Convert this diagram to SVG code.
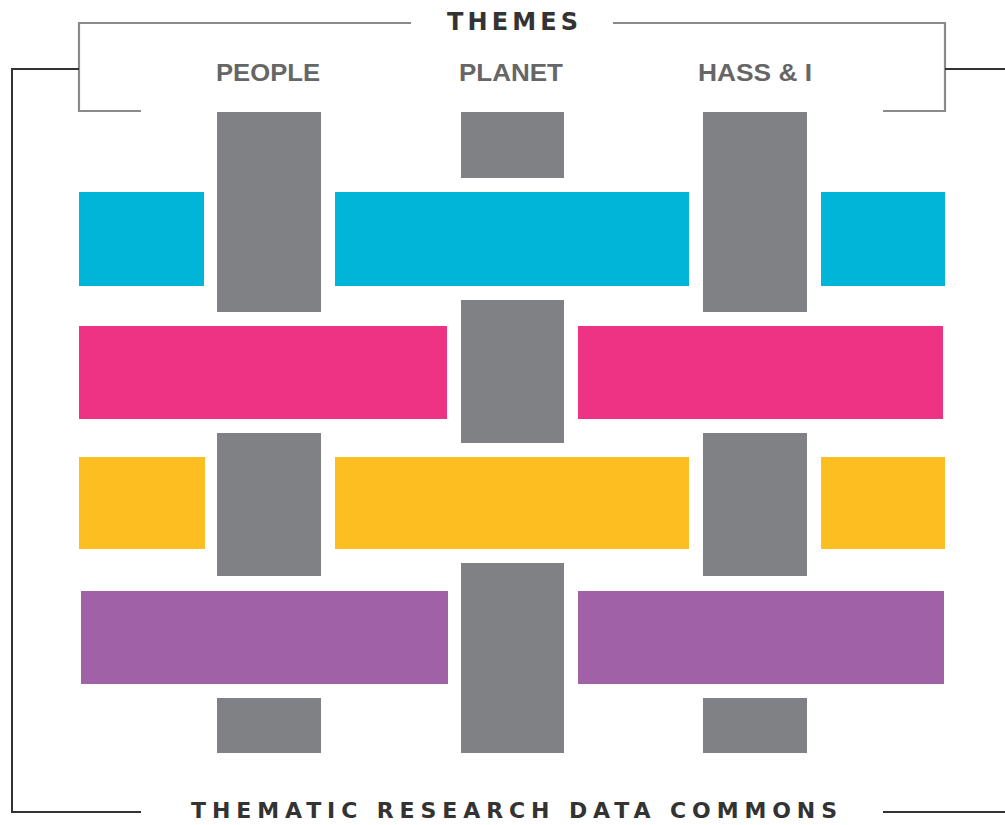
<svg xmlns="http://www.w3.org/2000/svg" width="1005" height="825" viewBox="0 0 1005 825">
  <style>
    .g { fill: #808184; }
    .cy { fill: #00b5d8; }
    .pk { fill: #ee3385; }
    .yl { fill: #fdbe22; }
    .pu { fill: #a061a6; }
    .br { fill: none; stroke: #8a8a8a; stroke-width: 2.2; }
    .outer { fill: none; stroke: #333333; stroke-width: 2; }
    .theme { font-family: "Liberation Sans", Arial, sans-serif; font-weight: bold; font-size: 24px; fill: #666666; text-anchor: middle; }
    .title { font-family: "DejaVu Sans", "Liberation Sans", sans-serif; font-weight: bold; fill: #333333; text-anchor: middle; }
  </style>
  <rect width="1005" height="825" fill="#ffffff"/>

  <g id="connectors">
    <path class="br" d="M 411 23 H 79 V 111 H 141"/>
    <path class="br" d="M 613 23 H 945 V 111 H 883"/>
    <path class="outer" d="M 79 69 H 12 V 812 H 141"/>
    <path class="outer" d="M 945 69 H 1005"/>
    <path class="outer" d="M 883 812 H 1005"/>
  </g>

  <g id="themes-title">
    <text class="title" x="512.5" y="30" font-size="24" textLength="131" lengthAdjust="spacing">THEMES</text>
  </g>
  <g id="commons-title">
    <text class="title" x="514" y="818" font-size="22" textLength="646" lengthAdjust="spacing">THEMATIC RESEARCH DATA COMMONS</text>
  </g>

  <g id="people">
    <text class="theme" x="268" y="81" textLength="104" lengthAdjust="spacingAndGlyphs">PEOPLE</text>
    <rect class="g" x="217" y="112" width="104" height="200"/>
    <rect class="g" x="217" y="433" width="104" height="143"/>
    <rect class="g" x="217" y="698" width="104" height="55"/>
  </g>
  <g id="planet">
    <text class="theme" x="511" y="81" textLength="104" lengthAdjust="spacingAndGlyphs">PLANET</text>
    <rect class="g" x="461" y="112" width="103" height="66"/>
    <rect class="g" x="461" y="300" width="103" height="143"/>
    <rect class="g" x="461" y="563" width="103" height="190"/>
  </g>
  <g id="hass">
    <text class="theme" x="755" y="81" textLength="114" lengthAdjust="spacingAndGlyphs">HASS &amp; I</text>
    <rect class="g" x="703" y="112" width="104" height="200"/>
    <rect class="g" x="703" y="433" width="104" height="143"/>
    <rect class="g" x="703" y="698" width="104" height="55"/>
  </g>

  <g id="row-cyan">
    <rect class="cy" x="79" y="192" width="125" height="94"/>
    <rect class="cy" x="335" y="192" width="354" height="94"/>
    <rect class="cy" x="821" y="192" width="124" height="94"/>
  </g>
  <g id="row-pink">
    <rect class="pk" x="79" y="326" width="368" height="93"/>
    <rect class="pk" x="578" y="326" width="365" height="93"/>
  </g>
  <g id="row-yellow">
    <rect class="yl" x="79" y="457" width="126" height="92"/>
    <rect class="yl" x="335" y="457" width="354" height="92"/>
    <rect class="yl" x="821" y="457" width="124" height="92"/>
  </g>
  <g id="row-purple">
    <rect class="pu" x="81" y="591" width="367" height="93"/>
    <rect class="pu" x="578" y="591" width="366" height="93"/>
  </g>
</svg>
